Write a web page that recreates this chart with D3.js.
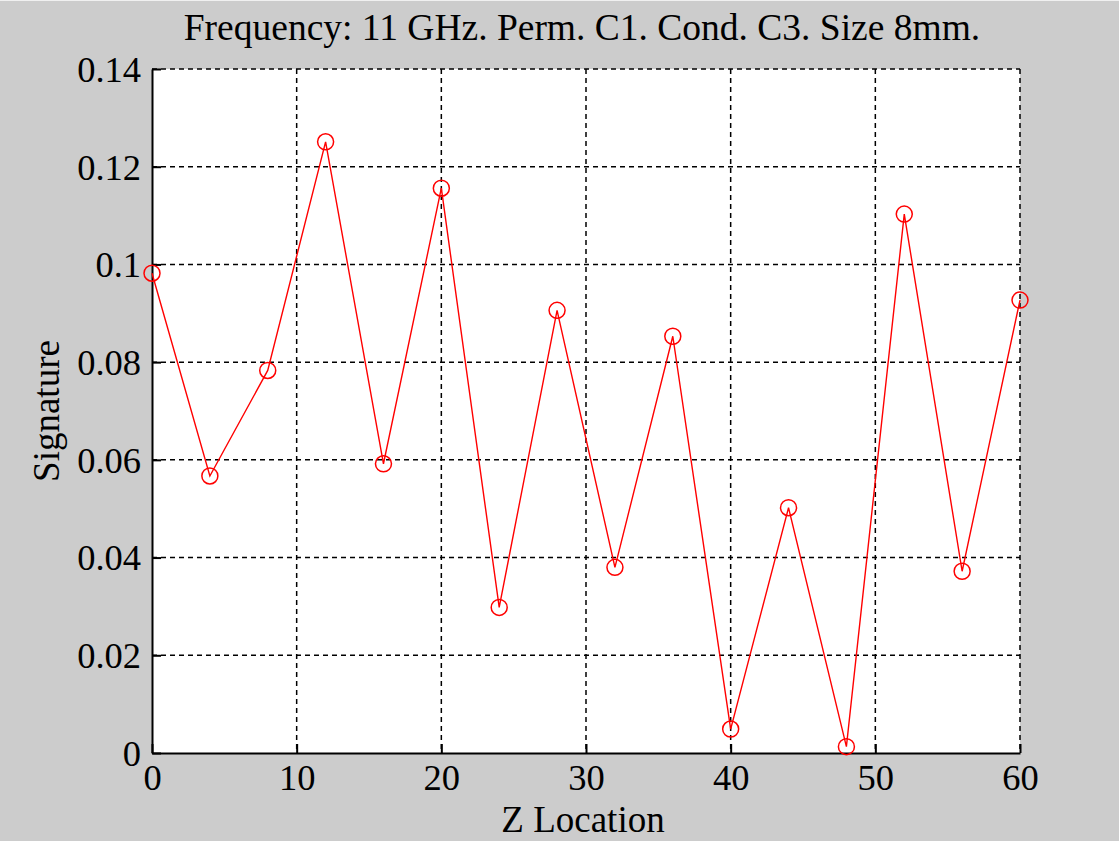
<!DOCTYPE html>
<html>
<head>
<meta charset="utf-8">
<script src="https://cdn.jsdelivr.net/npm/d3@7"></script>
<style>
  html, body { margin: 0; padding: 0; background: #cccccc; }
  svg { display: block; }
  text { font-family: "Liberation Serif", "Times New Roman", serif; fill: #000; }
</style>
</head>
<body>
<svg id="chart" width="1119" height="841"></svg>
<script>
// Z locations sampled every 4 mm, and the measured signature at each
const zLocation = [0, 4, 8, 12, 16, 20, 24, 28, 32, 36, 40, 44, 48, 52, 56, 60];
const signature = [0.0982, 0.0567, 0.0783, 0.1251, 0.0592, 0.1156, 0.0298, 0.0906,
                   0.0380, 0.0853, 0.0049, 0.0502, 0.0013, 0.1103, 0.0372, 0.0927];
const xTicks = [0, 10, 20, 30, 40, 50, 60];
const yTicks = [0, 0.02, 0.04, 0.06, 0.08, 0.1, 0.12, 0.14];
const titleText = "Frequency: 11 GHz. Perm. C1. Cond. C3. Size 8mm.";
const xLabel = "Z Location";
const yLabel = "Signature";

const svg = d3.select("#chart");
const W = 1119, H = 841;
const plot = { left: 152, right: 1020, top: 69, bottom: 753 };
const FONT = '"Liberation Serif", "Times New Roman", serif';

const x = d3.scaleLinear().domain([0, 60]).range([plot.left, plot.right]);
const y = d3.scaleLinear().domain([0, 0.14]).range([plot.bottom, plot.top]);

// figure background with a thin light rim along the top edge
svg.append("rect").attr("width", W).attr("height", H).attr("fill", "#cccccc");
svg.append("rect").attr("width", W).attr("height", 1).attr("fill", "#f0f0f0");

// axes area
svg.append("rect")
  .attr("x", plot.left).attr("y", plot.top)
  .attr("width", plot.right - plot.left).attr("height", plot.bottom - plot.top)
  .attr("fill", "#ffffff");

// dashed grid (includes the top and right edges of the box)
const grid = svg.append("g").attr("stroke", "#000").attr("stroke-width", 1.5)
  .attr("stroke-dasharray", "5,4").attr("fill", "none");
grid.selectAll("line.gx").data(xTicks.filter(d => d > 0)).join("line")
  .attr("x1", d => x(d)).attr("x2", d => x(d))
  .attr("y1", plot.top).attr("y2", plot.bottom);
grid.selectAll("line.gy").data(yTicks.filter(d => d > 0)).join("line")
  .attr("y1", d => y(d)).attr("y2", d => y(d))
  .attr("x1", plot.left).attr("x2", plot.right);

// bottom axis
const xAxis = d3.axisBottom(x).tickValues(xTicks).tickSizeInner(-9).tickSizeOuter(0)
  .tickFormat(d3.format("d"));
const gx = svg.append("g").attr("transform", `translate(0,${plot.bottom})`).call(xAxis);
gx.attr("font-family", FONT).attr("font-size", 36.5);
gx.select(".domain").attr("stroke", "#000").attr("stroke-width", 2);
gx.selectAll(".tick line").attr("stroke", "#000").attr("stroke-width", 2);
gx.selectAll(".tick text").attr("fill", "#000").attr("dy", null).attr("y", 37);

// left axis
const yAxis = d3.axisLeft(y).tickValues(yTicks).tickSizeInner(-9).tickSizeOuter(0)
  .tickFormat(d => d === 0 ? "0" : String(+d.toFixed(2)));
const gy = svg.append("g").attr("transform", `translate(${plot.left},0)`).call(yAxis);
gy.attr("font-family", FONT).attr("font-size", 36.5);
gy.select(".domain").attr("stroke", "#000").attr("stroke-width", 2);
gy.selectAll(".tick line").attr("stroke", "#000").attr("stroke-width", 2);
gy.selectAll(".tick text").attr("fill", "#000").attr("x", -11).attr("dy", "0.34em");

// data line with circle markers
const pts = zLocation.map((z, i) => [z, signature[i]]);
svg.append("path").datum(pts)
  .attr("fill", "none").attr("stroke", "#ff0000").attr("stroke-width", 1.4)
  .attr("d", d3.line().x(d => x(d[0])).y(d => y(d[1])));
svg.append("g").selectAll("circle").data(pts).join("circle")
  .attr("cx", d => x(d[0])).attr("cy", d => y(d[1])).attr("r", 8)
  .attr("fill", "none").attr("stroke", "#ff0000").attr("stroke-width", 1.5);

// title and axis labels
svg.append("text").attr("x", 582).attr("y", 40)
  .attr("text-anchor", "middle").style("font-family", FONT).style("font-size", "37.5px").text(titleText);
svg.append("text").attr("x", 583).attr("y", 832)
  .attr("text-anchor", "middle").style("font-family", FONT).style("font-size", "37px").text(xLabel);
svg.append("text").attr("transform", `translate(59,411) rotate(-90)`)
  .attr("text-anchor", "middle").style("font-family", FONT).style("font-size", "37px").text(yLabel);
</script>
</body>
</html>
